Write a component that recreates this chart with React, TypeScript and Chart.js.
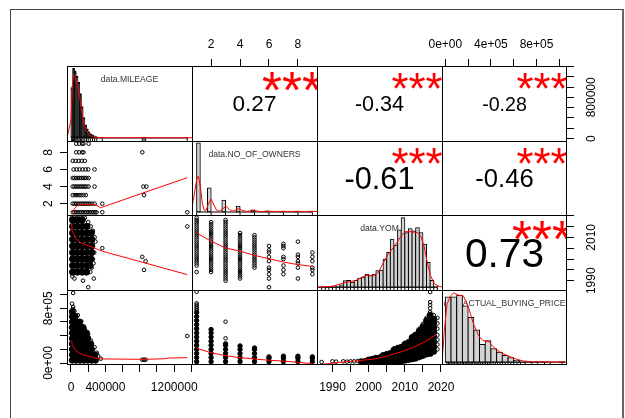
import React, { useEffect, useRef } from 'react';
import { Chart, registerables } from 'chart.js';

Chart.register(...registerables);

const FONT = '"Liberation Sans", Arial, Helvetica, sans-serif';
Chart.defaults.font.family = FONT;

// ================= DATA =================
const variableNames = ['data.MILEAGE', 'data.NO_OF_OWNERS', 'data.YOM', 'data.ACTUAL_BUYING_PRICE'];
const ownerLevels = [1, 2, 3, 4, 5, 6, 7, 8, 9];

// axis ranges of each variable
const mileageRange = [-46500, 1407000];
const ownersRange = [0.68, 9.32];
const yomRange = [1985.72, 2020.28];
const priceRange = [-29000, 1067500];

// tick marks and labels
const mileageTicks = [0, 200000, 400000, 600000, 800000, 1000000, 1200000, 1400000];
const mileageBottomLabels = ['0', '', '400000', '', '', '', '1200000', ''];
const mileageRightLabels = ['0', '', '', '', '800000', '', '', ''];
const ownersTicks = [2, 4, 6, 8];
const ownersTickLabels = ['2', '4', '6', '8'];
const yomTicks = [1990, 1995, 2000, 2005, 2010, 2015, 2020];
const yomBottomLabels = ['1990', '', '2000', '', '2010', '', '2020'];
const yomRightLabels = ['1990', '', '', '', '2010', '', ''];
const priceTicks = [0, 200000, 400000, 600000, 800000, 1000000];
const priceTopLabels = ['0e+00', '', '4e+05', '', '8e+05', ''];
const priceLeftLabels = ['0e+00', '', '', '', '8e+05', ''];

// correlations (upper panels)
const corrCells = [[0, 1], [0, 2], [0, 3], [1, 2], [1, 3], [2, 3]];
const corrValues = [0.27, -0.34, -0.28, -0.61, -0.46, 0.73];
const corrStars = ['***', '***', '***', '***', '***', '***'];

// histograms: [bin lower edge, density height]
const mileageHistWidth = 20000;
const mileageHistBins = [[0, 50], [20000, 69], [40000, 66], [60000, 61], [80000, 55], [100000, 44], [120000, 31], [140000, 20], [160000, 13], [180000, 9], [200000, 6], [220000, 4], [240000, 3], [260000, 2], [280000, 1.2], [300000, 0.8], [340000, 0.5], [820000, 0.4], [840000, 0.4], [860000, 0.4], [1340000, 0.3]];
const mileageHistSpan = [0, 1360000];
const mileageHistRange = [-3, 71.5];
const mileageDensity = [[-46500, 0], [0, 18], [15000, 52], [30000, 63], [45000, 61], [60000, 58], [80000, 51], [100000, 41], [120000, 29], [140000, 19], [160000, 12], [180000, 7.5], [200000, 4.5], [230000, 2.2], [260000, 1.2], [300000, 0.6], [400000, 0.3], [600000, 0.2], [800000, 0.3], [850000, 0.6], [900000, 0.3], [1100000, 0.2], [1350000, 0.3], [1407000, 0.2]];
const mileageRug = [8000, 18000, 30000, 42000, 55000, 68000, 80000, 95000, 110000, 125000, 140000, 160000, 180000, 200000, 225000, 250000, 275000, 300000, 364000, 829000, 849000, 868000, 1352000];

const ownersHistWidth = 0.25;
const ownersHistBins = [[1, 69], [1.25, 0], [1.75, 24], [2.75, 11.7], [3.75, 5.7], [4.75, 2], [5.75, 0.9], [6.75, 0.6], [7.75, 0.5], [8.75, 0.4]];
const ownersHistSpan = [1, 9];
const ownersHistRange = [-3, 71];
const ownersDensity = [[0.68, 5], [0.84, 18], [1.01, 33], [1.12, 35.7], [1.26, 25], [1.4, 8], [1.53, 1.5], [1.67, 2], [1.81, 8], [2.0, 13], [2.16, 8], [2.37, 2], [2.58, 0.8], [2.79, 3], [3.03, 5.7], [3.27, 2.5], [3.48, 0.8], [3.69, 2], [3.93, 3.3], [4.18, 1.5], [4.45, 0.6], [4.73, 1.2], [4.99, 1.7], [5.29, 0.6], [5.57, 0.5], [5.98, 0.8], [6.47, 0.4], [6.95, 0.7], [7.51, 0.4], [7.99, 0.7], [8.48, 0.4], [8.97, 0.7], [9.32, 0.5]];
const ownersRug = [1, 2, 3, 4, 5, 6, 7, 8, 9];

const yomHistWidth = 1;
const yomHistBins = [[1986, 0.3], [1987, 0.3], [1988, 0.5], [1989, 0.8], [1990, 1], [1991, 1], [1992, 2.3], [1993, 6.5], [1994, 6.7], [1995, 5], [1996, 6.7], [1997, 9], [1998, 10], [1999, 13], [2000, 11.7], [2001, 13], [2002, 16.7], [2003, 17], [2004, 28.3], [2005, 35], [2006, 48.3], [2007, 42.3], [2008, 57.7], [2009, 70], [2010, 55], [2011, 59], [2012, 56.7], [2013, 60], [2014, 55], [2015, 43.3], [2016, 25], [2017, 6.7], [2018, 1]];
const yomHistSpan = [1986, 2019];
const yomHistRange = [-2.8, 72.8];
const yomDensity = [[1985.72, 0], [1988, 0.5], [1990.1, 1], [1993.7, 5], [1996.4, 6.7], [1999.1, 11.7], [2001.4, 11.7], [2002.7, 15], [2004.1, 25], [2005.4, 33.3], [2007.2, 41.7], [2009, 51.7], [2010.1, 56], [2011.7, 56], [2013.5, 55], [2014.4, 51.7], [2015.3, 41.7], [2016.2, 25], [2017.1, 11.7], [2018.2, 3.3], [2019.4, 1], [2020.28, 0.3]];
const yomRug = [1987, 1988, 1989, 1990, 1991, 1992, 1993, 1994, 1995, 1996, 1997, 1998, 1999, 2000, 2001, 2002, 2003, 2004, 2005, 2006, 2007, 2008, 2009, 2010, 2011, 2012, 2013, 2014, 2015, 2016, 2017, 2018, 2019];

const priceHistWidth = 50000;
const priceHistBins = [[0, 65.7], [50000, 65.7], [100000, 67.7], [150000, 56.7], [200000, 45], [250000, 32.4], [300000, 17.7], [350000, 21.7], [400000, 13.4], [450000, 10], [500000, 6.7], [550000, 4.4], [600000, 1.7], [650000, 1], [700000, 0.5], [750000, 0.4], [800000, 0.3], [850000, 0.3], [1000000, 0.3]];
const priceHistSpan = [0, 1050000];
const priceHistRange = [-2.9, 72.9];
const priceDensity = [[-29000, 0], [-8800, 31.7], [15000, 58.4], [44000, 66.7], [73000, 70], [117000, 67.7], [160000, 66.7], [204000, 55], [248000, 38.4], [292000, 26.7], [331000, 21.7], [380000, 21], [424000, 15], [482000, 10], [541000, 6.7], [614000, 3.4], [687000, 1], [775000, 0.2], [1067500, 0.1]];
const priceRug = [15000, 28000, 40000, 55000, 68000, 80000, 95000, 108000, 120000, 135000, 148000, 160000, 175000, 188000, 200000, 215000, 228000, 240000, 255000, 268000, 280000, 295000, 310000, 325000, 340000, 355000, 370000, 385000, 400000, 420000, 440000, 460000, 480000, 500000, 525000, 550000, 575000, 600000, 630000, 660000, 700000, 760000, 810000, 870000, 920000, 1024000];

// scatter: MILEAGE (x) by NO_OF_OWNERS level (y)
const mileageByOwners = [
  [20000, 40000, 60000, 80000, 100000, 120000, 140000, 160000, 180000, 200000, 220000, 240000, 260000, 280000, 297000, 364000, 1352000],
  [20000, 40000, 60000, 80000, 100000, 120000, 140000, 160000, 180000, 200000, 220000, 245000, 275000, 364000],
  [20000, 45000, 70000, 95000, 120000, 145000, 172000, 849000],
  [20000, 40000, 60000, 80000, 100000, 120000, 140000, 160000, 180000, 205000, 274000, 841000, 876000],
  [20000, 40000, 60000, 80000, 100000, 120000, 140000, 160000, 180000, 205000],
  [30000, 65000, 100000, 135000, 170000, 200000, 274000],
  [20000, 55000, 90000, 125000, 160000],
  [60000, 95000, 130000, 145000, 829000],
  [60000, 95000, 130000, 145000, 205000],
];
const mileageOwnersSmooth = [[7300, 0.83], [35000, 1.35], [73000, 1.81], [93000, 1.88], [286000, 1.88], [344000, 1.53], [1352000, 5.04]];

// scatter: MILEAGE (x) vs YOM (y)
const mileageYomDense = [
  [20000, 2018], [75000, 2018], [130000, 2018],
  [20000, 2015], [75000, 2015], [130000, 2015], [185000, 2015],
  [20000, 2012], [75000, 2012], [130000, 2012], [185000, 2012], [235000, 2012],
  [20000, 2009], [75000, 2009], [130000, 2009], [185000, 2009], [240000, 2009],
  [20000, 2006], [75000, 2006], [130000, 2006], [185000, 2006], [240000, 2006],
  [20000, 2003], [75000, 2003], [130000, 2003], [185000, 2003], [240000, 2003],
  [20000, 2000], [75000, 2000], [130000, 2000], [185000, 2000], [230000, 2000],
  [20000, 1997], [75000, 1997], [130000, 1997], [185000, 1997], [220000, 1997],
  [20000, 1994], [75000, 1994], [130000, 1994], [180000, 1994],
];
const mileageYomSparse = [
  [10000, 2019], [60000, 2019], [110000, 2019], [160000, 2019], [200000, 2017], [230000, 2015], [255000, 2013], [275000, 2010], [285000, 2008], [364000, 2005], [270000, 2003], [255000, 2000], [262000, 1998], [240000, 1996], [225000, 1994], [40000, 1991], [140000, 1990], [200000, 1987], [265000, 1991], [15000, 1992], [829000, 2001], [868000, 1999], [849000, 1995], [1352000, 2015],
];
const mileageYomSmooth = [[7300, 2016.3], [15000, 2013.2], [53000, 2009.4], [93000, 2008.2], [131000, 2007.1], [190000, 2006.3], [248000, 2005.5], [306000, 2004.5], [364000, 2003.6], [1352000, 1992.8]];

// scatter: MILEAGE (x) vs PRICE (y)
const mileagePriceDense = [
  [15000, 750000],
  [15000, 680000], [50000, 680000],
  [15000, 600000], [60000, 600000], [100000, 600000],
  [15000, 520000], [60000, 520000], [105000, 520000], [140000, 520000],
  [15000, 440000], [60000, 440000], [105000, 440000], [150000, 440000], [180000, 440000],
  [15000, 360000], [60000, 360000], [105000, 360000], [150000, 360000], [195000, 360000],
  [15000, 280000], [60000, 280000], [105000, 280000], [150000, 280000], [195000, 280000], [230000, 280000],
  [15000, 200000], [60000, 200000], [105000, 200000], [150000, 200000], [195000, 200000], [240000, 200000],
  [15000, 120000], [60000, 120000], [105000, 120000], [150000, 120000], [195000, 120000], [240000, 120000], [280000, 120000],
  [15000, 40000], [60000, 40000], [105000, 40000], [150000, 40000], [195000, 40000], [240000, 40000], [285000, 40000],
];
const mileagePriceSparse = [
  [25000, 1024000], [12000, 867000], [25000, 819000], [20000, 790000], [40000, 760000], [80000, 700000], [120000, 610000], [160000, 500000], [200000, 420000], [230000, 330000], [275000, 230000], [300000, 150000], [316000, 100000], [346000, 63000], [829000, 48000], [849000, 48000], [868000, 48000], [1352000, 395000],
];
const mileagePriceSmooth = [[7300, 332000], [15000, 259000], [53000, 186000], [131000, 122000], [209000, 98000], [286000, 73000], [364000, 59000], [868000, 54000], [1100000, 63000], [1140000, 73000], [1352000, 78000]];

// scatter: NO_OF_OWNERS (x) vs YOM (y), years listed by owner level
const yomByOwners = [
  [1994, 1997, 1998, 1999, 2000, 2001, 2002, 2003, 2004, 2005, 2006, 2007, 2008, 2009, 2010, 2011, 2012, 2013, 2014, 2015, 2016, 2017, 2018, 2019],
  [1994, 1995, 1996, 1997, 1998, 1999, 2000, 2001, 2002, 2003, 2004, 2005, 2006, 2007, 2008, 2009, 2010, 2011, 2012, 2013, 2014, 2015, 2016, 2017],
  [1990, 1991, 1992, 1993, 1994, 1995, 1996, 1997, 1998, 1999, 2000, 2001, 2002, 2003, 2004, 2005, 2006, 2007, 2008, 2009, 2010, 2011, 2012, 2013, 2014, 2015, 2016, 2017, 2018],
  [1991, 1992, 1993, 1994, 1995, 1996, 1997, 1998, 1999, 2000, 2001, 2002, 2003, 2004, 2005, 2006, 2007, 2008, 2009, 2010, 2011, 2012],
  [1996, 1997, 1998, 1999, 2000, 2001, 2002, 2003, 2004, 2005, 2006, 2007, 2008, 2009, 2010, 2011],
  [1987, 1991, 1993, 1995, 1996, 1999, 2001, 2003, 2004, 2006],
  [1993, 1995, 1997, 2000, 2001, 2005, 2006, 2007],
  [1991, 1996, 1998, 1999, 2001, 2002, 2008],
  [1993, 1995, 1996, 1999, 2001, 2003],
];
const ownersYomSmooth = [[1, 2012.0], [2, 2008.2], [3, 2005.1], [4, 2003.6], [5, 2001.7], [6, 2000.1], [7, 1998.6], [8, 1997.4], [9, 1996.6]];

// scatter: NO_OF_OWNERS (x) vs PRICE (y), prices listed by owner level
const priceByOwnersDense = [
  [20000, 80000, 140000, 200000, 260000, 320000, 380000, 440000, 500000, 560000, 620000, 680000, 740000],
  [20000, 80000, 140000, 200000, 260000, 320000, 380000, 440000, 490000],
  [20000, 80000, 140000, 200000, 260000, 280000],
  [20000, 80000, 140000, 200000, 250000],
  [20000, 80000, 140000, 200000, 220000],
  [20000, 70000, 90000],
  [20000, 70000, 100000],
  [20000, 70000, 100000],
  [20000, 70000, 90000],
];
const priceByOwnersSparse = [
  [775000, 800000, 823000, 850000, 873000, 1042000],
  [], [361000, 604000], [], [], [], [], [], [],
];
const ownersPriceSmooth = [[1, 215000], [2, 151000], [3, 107000], [4, 78000], [5, 59000], [6, 40000], [7, 29000], [8, 10000], [9, -10000]];

// scatter: YOM (x) vs PRICE (y)
const yomPriceDense = [
  [1998, 20000], [1999, 20000],
  [2000, 20000], [2000, 45000], [2001, 20000], [2001, 55000],
  [2002, 20000], [2002, 70000], [2003, 20000], [2003, 70000],
  [2004, 20000], [2004, 70000], [2004, 110000], [2005, 20000], [2005, 80000], [2005, 125000],
  [2006, 20000], [2006, 70000], [2006, 140000],
  [2007, 25000], [2007, 90000], [2007, 160000], [2007, 190000],
  [2008, 25000], [2008, 95000], [2008, 165000], [2008, 210000],
  [2009, 30000], [2009, 100000], [2009, 170000], [2009, 230000],
  [2010, 40000], [2010, 110000], [2010, 180000], [2010, 250000], [2010, 270000],
  [2011, 50000], [2011, 120000], [2011, 190000], [2011, 260000], [2011, 300000],
  [2012, 60000], [2012, 130000], [2012, 200000], [2012, 270000], [2012, 340000], [2012, 370000],
  [2013, 70000], [2013, 140000], [2013, 210000], [2013, 280000], [2013, 350000], [2013, 410000],
  [2014, 90000], [2014, 160000], [2014, 230000], [2014, 300000], [2014, 370000], [2014, 440000], [2014, 470000],
  [2015, 110000], [2015, 180000], [2015, 250000], [2015, 320000], [2015, 390000], [2015, 460000], [2015, 530000],
  [2016, 130000], [2016, 200000], [2016, 270000], [2016, 340000], [2016, 410000], [2016, 480000], [2016, 550000], [2016, 620000],
  [2017, 140000], [2017, 210000], [2017, 280000], [2017, 350000], [2017, 420000], [2017, 490000], [2017, 560000], [2017, 630000], [2017, 700000],
  [2018, 170000], [2018, 240000], [2018, 310000], [2018, 380000], [2018, 450000], [2018, 520000], [2018, 590000], [2018, 640000],
];
const yomPriceSparse = [
  [1987, 15000], [1990, 25000], [1991, 20000], [1993, 25000], [1994, 20000], [1995, 25000], [1996, 25000], [1997, 30000],
  [1999, 40000], [2001, 65000], [2003, 95000], [2005, 140000], [2007, 215000], [2008, 235000], [2010, 295000], [2012, 395000], [2014, 500000], [2015, 570000],
  [2016, 660000], [2017, 745000], [2017, 800000], [2017, 850000], [2017, 890000], [2017, 1038000], [2018, 700000], [2018, 654000],
  [2019, 200000], [2019, 270000], [2019, 340000], [2019, 410000], [2019, 502000], [2019, 580000], [2019, 660000],
];
const yomPriceSmooth = [[1987, -20000], [1992, 10000], [1996, 29000], [2001.7, 59000], [2005.4, 107000], [2009.1, 165000], [2012.8, 239000], [2015.6, 312000], [2018.8, 420000]];

// ================= STRUCTURE =================
const varRanges = [mileageRange, ownersRange, yomRange, priceRange];
const varTicks = [mileageTicks, ownersTicks, yomTicks, priceTicks];

// very narrow bars render as solid black in the original (borders fill them)
const histFill = ['#111111', '#D3D3D3', '#D3D3D3', '#D3D3D3'];

const histDefs = [
  { bins: mileageHistBins, width: mileageHistWidth, span: mileageHistSpan, yRange: mileageHistRange, density: mileageDensity, rug: mileageRug },
  { bins: ownersHistBins, width: ownersHistWidth, span: ownersHistSpan, yRange: ownersHistRange, density: ownersDensity, rug: ownersRug },
  { bins: yomHistBins, width: yomHistWidth, span: yomHistSpan, yRange: yomHistRange, density: yomDensity, rug: yomRug },
  { bins: priceHistBins, width: priceHistWidth, span: priceHistSpan, yRange: priceHistRange, density: priceDensity, rug: priceRug },
];

const scatterDefs: Record<string, any> = {
  '1,0': { sparse: mileageByOwners.flatMap((l, i) => l.map((v) => [v, ownerLevels[i]])), dense: [], smooth: mileageOwnersSmooth, denseRadius: 0 },
  '2,0': { sparse: mileageYomSparse, dense: mileageYomDense, smooth: mileageYomSmooth, denseRadius: 3.2 },
  '3,0': { sparse: mileagePriceSparse, dense: mileagePriceDense, smooth: mileagePriceSmooth, denseRadius: 3 },
  '2,1': { sparse: yomByOwners.flatMap((l, i) => l.map((v) => [ownerLevels[i], v])), dense: [], smooth: ownersYomSmooth, denseRadius: 0 },
  '3,1': {
    sparse: priceByOwnersSparse.flatMap((l, i) => l.map((v) => [ownerLevels[i], v])),
    dense: priceByOwnersDense.flatMap((l, i) => l.map((v) => [ownerLevels[i], v])),
    smooth: ownersPriceSmooth, denseRadius: 2.2,
  },
  '3,2': { sparse: yomPriceSparse, dense: yomPriceDense, smooth: yomPriceSmooth, denseRadius: 3 },
};

type AxisSpec = { position: 'top' | 'bottom' | 'left' | 'right'; labels: string[] };
const axisSpecs: Record<string, { x?: AxisSpec; y?: AxisSpec }> = {
  '0,1': { x: { position: 'top', labels: ownersTickLabels } },
  '0,3': { x: { position: 'top', labels: priceTopLabels }, y: { position: 'right', labels: mileageRightLabels } },
  '1,0': { y: { position: 'left', labels: ownersTickLabels } },
  '2,3': { y: { position: 'right', labels: yomRightLabels } },
  '3,0': { x: { position: 'bottom', labels: mileageBottomLabels }, y: { position: 'left', labels: priceLeftLabels } },
  '3,2': { x: { position: 'bottom', labels: yomBottomLabels } },
};

// layout
const COLS = [67, 192, 317, 442, 567];
const ROWS = [66, 141, 215, 290, 365];
const AXW = { top: 34, bottom: 34, left: 32, right: 36 };
const EXT = 30; // extra canvas room so axis labels are not cut

function makeScale(axis: 'x' | 'y', range: number[], ticks: number[], spec?: AxisSpec): any {
  const base: any = {
    type: 'linear',
    min: range[0],
    max: range[1],
    bounds: 'data',
    offset: false,
    grace: 0,
    afterBuildTicks: (s: any) => {
      s.ticks = ticks.map((v) => ({ value: v }));
    },
  };
  if (!spec) return { ...base, display: false, grid: { offset: false } };
  return {
    ...base,
    display: true,
    position: spec.position,
    grid: { drawOnChartArea: false, drawTicks: true, tickLength: 7, color: '#000', lineWidth: 1, offset: false },
    border: { display: false },
    ticks:
      axis === 'x'
        ? {
            autoSkip: false,
            maxRotation: 0,
            minRotation: 0,
            padding: spec.position === 'top' ? 7 : 8,
            color: '#000',
            font: { family: FONT, size: 12 },
            callback: (v: number) => {
              const i = ticks.indexOf(v);
              return i >= 0 ? spec.labels[i] : '';
            },
          }
        : { display: false },
    afterFit: (s: any) => {
      if (axis === 'x') s.height = spec.position === 'top' ? AXW.top : AXW.bottom;
      else s.width = spec.position === 'left' ? AXW.left : AXW.right;
      s.paddingLeft = 0;
      s.paddingRight = 0;
      s.paddingTop = 0;
      s.paddingBottom = 0;
    },
  };
}

function histDatasets(h: any, fill: string): any[] {
  return [
    {
      type: 'scatter',
      data: h.rug.map((v: number) => ({ x: v, y: h.yRange[0] })),
      pointStyle: 'line',
      pointRotation: 90,
      pointRadius: 2.5,
      pointBorderWidth: 1,
      pointBorderColor: '#000',
      borderColor: '#000',
      order: 0,
      clip: 0,
    },
    {
      type: 'line',
      data: h.density.map(([x, y]: number[]) => ({ x, y })),
      borderColor: '#FF0000',
      borderWidth: 1,
      pointRadius: 0,
      tension: 0,
      fill: false,
      order: 1,
      clip: 0,
    },
    {
      type: 'line',
      data: [{ x: h.span[0], y: 0 }, { x: h.span[1], y: 0 }],
      borderColor: '#000',
      borderWidth: 1,
      pointRadius: 0,
      fill: false,
      order: 2,
      clip: 0,
    },
    {
      type: 'bar',
      data: h.bins.map(([x0, y]: number[]) => ({ x: x0 + h.width / 2, y })),
      backgroundColor: fill,
      borderColor: '#000',
      borderWidth: 1,
      borderSkipped: false,
      barPercentage: 1,
      categoryPercentage: 1,
      inflateAmount: 0.5,
      order: 3,
    },
  ];
}

function scatterDatasets(s: any): any[] {
  return [
    {
      type: 'line',
      data: s.smooth.map(([x, y]: number[]) => ({ x, y })),
      borderColor: '#FF0000',
      borderWidth: 1,
      pointRadius: 0,
      tension: 0,
      fill: false,
      order: 0,
      clip: 0,
    },
    {
      type: 'scatter',
      data: s.sparse.map(([x, y]: number[]) => ({ x, y })),
      pointRadius: 1.8,
      pointBorderWidth: 1,
      pointBorderColor: '#000',
      borderColor: '#000',
      pointBackgroundColor: 'rgba(0,0,0,0)',
      order: 1,
      clip: 0,
    },
    {
      type: 'scatter',
      data: s.dense.map(([x, y]: number[]) => ({ x, y })),
      pointRadius: s.denseRadius,
      pointBorderWidth: 1,
      pointBorderColor: '#000',
      borderColor: '#000',
      pointBackgroundColor: '#000',
      order: 2,
      clip: 0,
    },
  ];
}

function decorPlugin(r: number, c: number, spec: { x?: AxisSpec; y?: AxisSpec }): any {
  return {
    id: 'decor',
    beforeDatasetsDraw(chart: any) {
      if (r !== c) return;
      const { ctx, chartArea: a } = chart;
      ctx.save();
      ctx.font = `8.6px ${FONT}`;
      ctx.fillStyle = '#333';
      ctx.textAlign = 'center';
      ctx.textBaseline = 'middle';
      ctx.fillText(variableNames[r], (a.left + a.right) / 2, a.top + 0.18 * (a.bottom - a.top));
      ctx.restore();
    },
    afterDatasetsDraw(chart: any) {
      const { ctx, chartArea: a } = chart;
      const w = a.right - a.left;
      const h = a.bottom - a.top;
      const k = corrCells.findIndex(([rr, cc]) => rr === r && cc === c);
      if (k >= 0) {
        const txt = corrValues[k].toFixed(2);
        ctx.save();
        ctx.beginPath();
        ctx.rect(a.left, a.top, w, h);
        ctx.clip();
        ctx.font = `100px ${FONT}`;
        const unit = ctx.measureText(txt).width / 100;
        const base = (0.8 * w) / unit;
        const fs = (base * (Math.abs(corrValues[k]) + 0.3)) / 1.3;
        ctx.textAlign = 'center';
        ctx.textBaseline = 'alphabetic';
        ctx.font = `${fs}px ${FONT}`;
        ctx.fillStyle = '#000';
        let m = ctx.measureText(txt);
        ctx.fillText(txt, a.left + 0.5 * w, a.top + 0.5 * h + (m.actualBoundingBoxAscent - m.actualBoundingBoxDescent) / 2);
        ctx.font = `${base}px ${FONT}`;
        ctx.fillStyle = '#FF0000';
        m = ctx.measureText(corrStars[k]);
        ctx.fillText(corrStars[k], a.left + 0.8 * w, a.top + 0.2 * h + (m.actualBoundingBoxAscent - m.actualBoundingBoxDescent) / 2);
        ctx.restore();
      }
      ctx.save();
      ctx.strokeStyle = '#000';
      ctx.lineWidth = 1;
      ctx.beginPath();
      ctx.moveTo(a.left, a.top + 0.5);
      ctx.lineTo(a.right, a.top + 0.5);
      ctx.moveTo(a.left + 0.5, a.top);
      ctx.lineTo(a.left + 0.5, a.bottom);
      if (c === 3) {
        ctx.moveTo(a.right - 0.5, a.top);
        ctx.lineTo(a.right - 0.5, a.bottom);
      }
      if (r === 3) {
        ctx.moveTo(a.left, a.bottom - 0.5);
        ctx.lineTo(a.right, a.bottom - 0.5);
      }
      ctx.stroke();
      ctx.restore();
    },
    afterDraw(chart: any) {
      if (!spec.y) return;
      const { ctx, chartArea: a } = chart;
      const s = chart.scales.y;
      const ticks = varTicks[r];
      const labels = spec.y.labels;
      const bx = spec.y.position === 'left' ? a.left - 15 : a.right + 28;
      ctx.save();
      ctx.font = `12px ${FONT}`;
      ctx.fillStyle = '#000';
      ctx.textAlign = 'center';
      ctx.textBaseline = 'alphabetic';
      ticks.forEach((v, i) => {
        if (!labels[i]) return;
        const py = s.getPixelForValue(v);
        ctx.save();
        ctx.translate(bx, py);
        ctx.rotate(-Math.PI / 2);
        ctx.fillText(labels[i], 0, 0);
        ctx.restore();
      });
      ctx.restore();
    },
  };
}

function panelBox(r: number, c: number) {
  const spec = axisSpecs[`${r},${c}`] || {};
  const L = spec.y?.position === 'left' ? AXW.left : 0;
  const R = spec.y?.position === 'right' ? AXW.right : 0;
  const T = spec.x?.position === 'top' ? AXW.top : 0;
  const B = spec.x?.position === 'bottom' ? AXW.bottom : 0;
  const padX = spec.x ? EXT : 0;
  const padY = spec.y ? EXT : 0;
  return {
    spec,
    pad: { left: padX, right: padX, top: padY, bottom: padY },
    left: COLS[c] - L - padX,
    top: ROWS[r] - T - padY,
    width: COLS[c + 1] - COLS[c] + L + R + 2 * padX,
    height: ROWS[r + 1] - ROWS[r] + T + B + 2 * padY,
  };
}

function buildConfig(r: number, c: number): any {
  const { spec, pad } = panelBox(r, c);
  const diag = r === c;
  const scales = {
    x: makeScale('x', varRanges[c], varTicks[c], spec.x),
    y: makeScale('y', diag ? histDefs[r].yRange : varRanges[r], diag ? [0] : varTicks[r], spec.y),
  };
  let datasets: any[] = [];
  if (diag) datasets = histDatasets(histDefs[r], histFill[r]);
  else if (r > c) datasets = scatterDatasets(scatterDefs[`${r},${c}`]);
  return {
    type: 'scatter',
    data: { datasets },
    options: {
      animation: false,
      responsive: false,
      maintainAspectRatio: false,
      events: [],
      layout: { padding: pad, autoPadding: false },
      plugins: { legend: { display: false }, tooltip: { enabled: false } },
      scales,
    },
    plugins: [decorPlugin(r, c, spec)],
  };
}

function Panel({ r, c }: { r: number; c: number }) {
  const ref = useRef<HTMLCanvasElement>(null);
  const { left, top, width, height } = panelBox(r, c);
  useEffect(() => {
    if (!ref.current) return;
    const chart = new Chart(ref.current, buildConfig(r, c));
    return () => chart.destroy();
  }, [r, c]);
  return (
    <canvas
      ref={ref}
      width={width}
      height={height}
      style={{ position: 'absolute', left, top, width, height }}
    />
  );
}

export default function App() {
  const cells: number[][] = [];
  for (let r = 0; r < 4; r++) for (let c = 0; c < 4; c++) cells.push([r, c]);
  return (
    <div style={{ position: 'absolute', left: 0, top: 0, width: 625, height: 418, overflow: 'hidden', background: '#fff' }}>
      <div
        style={{
          position: 'absolute', left: 10, top: 9, width: 611, height: 440,
          borderLeft: '1px solid #444', borderTop: '1px solid #444', borderRight: '2px solid #666',
        }}
      />
      {cells.map(([r, c]) => (
        <Panel key={`${r}-${c}`} r={r} c={c} />
      ))}
    </div>
  );
}
